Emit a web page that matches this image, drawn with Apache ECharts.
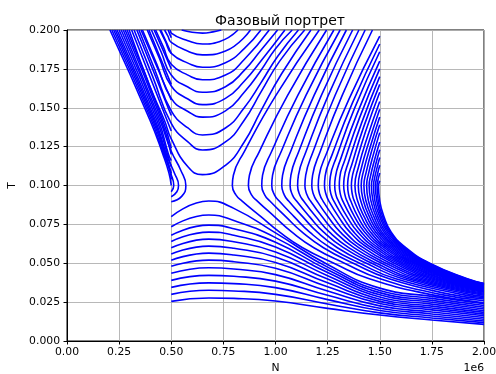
<!DOCTYPE html>
<html>
<head>
<meta charset="utf-8">
<script src="https://cdn.jsdelivr.net/npm/echarts@6.0.0/dist/echarts.min.js"></script>
<style>
html, body { margin: 0; padding: 0; background: #fff; }
#chart { width: 496px; height: 374px; }
</style>
</head>
<body>
<div id="chart"></div>
<script>
// N is in units of 1e6, T as on the axis

// lower family: start at N = 0.5 and run to the right edge
var bottomN = [0.5, 0.68, 0.8, 1.0, 1.25, 1.5, 1.75, 2.0];
var bottomT = [
    [0.0255, 0.0277, 0.0274, 0.0257, 0.0210, 0.0167, 0.0135, 0.0107],
    [0.0300, 0.0326, 0.0322, 0.0300, 0.0238, 0.0181, 0.0148, 0.0118],
    [0.0345, 0.0374, 0.0369, 0.0343, 0.0266, 0.0196, 0.0161, 0.0129],
    [0.0390, 0.0422, 0.0416, 0.0385, 0.0294, 0.0211, 0.0174, 0.0140],
    [0.0435, 0.0471, 0.0463, 0.0427, 0.0322, 0.0226, 0.0187, 0.0151],
    [0.0480, 0.0520, 0.0510, 0.0468, 0.0349, 0.0241, 0.0200, 0.0162],
    [0.0520, 0.0565, 0.0553, 0.0505, 0.0374, 0.0255, 0.0212, 0.0173],
    [0.0560, 0.0610, 0.0596, 0.0540, 0.0398, 0.0269, 0.0224, 0.0184],
    [0.0600, 0.0655, 0.0638, 0.0573, 0.0420, 0.0283, 0.0237, 0.0195],
    [0.0640, 0.0700, 0.0680, 0.0605, 0.0440, 0.0297, 0.0249, 0.0206],
    [0.0680, 0.0745, 0.0722, 0.0635, 0.0458, 0.0311, 0.0261, 0.0217],
    [0.0735, 0.0810, 0.0775, 0.0665, 0.0475, 0.0325, 0.0274, 0.0228],
    [0.0800, 0.0900, 0.0853, 0.0695, 0.0492, 0.0340, 0.0287, 0.0240]
];

// left of the saddle: bundle going up-left from N = 0.5
var leftCurves = [
    [[0.206, 0.2], [0.398, 0.142], [0.460, 0.12], [0.489, 0.108], [0.5, 0.1]],
    [[0.215, 0.2], [0.405, 0.142], [0.4645, 0.12], [0.493, 0.11], [0.5, 0.104]],
    [[0.224, 0.2], [0.4115, 0.142], [0.469, 0.12], [0.497, 0.108], [0.512, 0.1], [0.5, 0.096]],
    [[0.232, 0.2], [0.4175, 0.142], [0.473, 0.12], [0.5, 0.108]],
    [[0.240, 0.2], [0.4235, 0.142], [0.477, 0.12], [0.515, 0.108], [0.535, 0.1], [0.527, 0.096], [0.5, 0.0928]],
    [[0.250, 0.2], [0.431, 0.142], [0.482, 0.12], [0.5, 0.112]],
    [[0.260, 0.2], [0.4385, 0.142], [0.487, 0.12], [0.5, 0.116]],
    [[0.270, 0.2], [0.446, 0.142], [0.5, 0.122], [0.545, 0.11], [0.57, 0.1], [0.55, 0.093], [0.5, 0.0896]],
    [[0.279, 0.2], [0.453, 0.142], [0.5, 0.12]],
    [[0.288, 0.2], [0.4595, 0.142], [0.5, 0.124]],
    [[0.310, 0.2], [0.405, 0.1675], [0.5, 0.135]],
    [[0.335, 0.2], [0.4175, 0.1725], [0.5, 0.145]],
    [[0.355, 0.2], [0.4275, 0.1775], [0.5, 0.155]],
    [[0.393, 0.2], [0.4465, 0.1825], [0.5, 0.165]],
    [[0.418, 0.2], [0.459, 0.1875], [0.5, 0.175]],
    [[0.450, 0.2], [0.475, 0.1925], [0.5, 0.185]],
    [[0.485, 0.2], [0.4925, 0.1975], [0.5, 0.195]]
];

// above the saddle: U shapes
var topCurves = [
    [[0.298, 0.2], [0.40, 0.163], [0.467, 0.142], [0.5, 0.13], [0.58, 0.112], [0.65, 0.107], [0.76, 0.113], [0.85, 0.128], [0.93, 0.148], [1.03, 0.172], [1.17, 0.2]],
    [[0.322, 0.2], [0.411, 0.17], [0.5, 0.14], [0.58, 0.128], [0.65, 0.1228], [0.76, 0.128], [0.85, 0.142], [0.93, 0.16], [1.02, 0.18], [1.14, 0.2]],
    [[0.345, 0.2], [0.4225, 0.174], [0.5, 0.148], [0.58, 0.137], [0.65, 0.1325], [0.76, 0.137], [0.85, 0.15], [0.93, 0.166], [1.01, 0.183], [1.11, 0.2]],
    [[0.362, 0.2], [0.431, 0.178], [0.5, 0.156], [0.58, 0.1476], [0.65, 0.144], [0.76, 0.148], [0.85, 0.16], [0.93, 0.174], [1.0, 0.188], [1.08, 0.2]],
    [[0.385, 0.2], [0.4425, 0.182], [0.5, 0.164], [0.58, 0.1556], [0.65, 0.152], [0.76, 0.156], [0.85, 0.167], [0.93, 0.18], [1.045, 0.2]],
    [[0.405, 0.2], [0.4525, 0.1855], [0.5, 0.171], [0.58, 0.1633], [0.65, 0.16], [0.76, 0.1635], [0.85, 0.174], [0.93, 0.187], [1.01, 0.2]],
    [[0.425, 0.2], [0.4625, 0.189], [0.5, 0.178], [0.58, 0.171], [0.65, 0.168], [0.76, 0.171], [0.85, 0.181], [0.97, 0.2]],
    [[0.445, 0.2], [0.4725, 0.1925], [0.5, 0.185], [0.58, 0.1787], [0.65, 0.176], [0.76, 0.179], [0.85, 0.188], [0.93, 0.2]],
    [[0.468, 0.2], [0.484, 0.196], [0.5, 0.192], [0.58, 0.1864], [0.65, 0.184], [0.76, 0.1865], [0.88, 0.2]],
    [[0.495, 0.2], [0.5, 0.198], [0.58, 0.1931], [0.65, 0.191], [0.73, 0.1925], [0.82, 0.2]],
    [[0.55, 0.2], [0.6, 0.1985], [0.65, 0.198], [0.7, 0.1988], [0.74, 0.2]]
];

// right of the saddle: C shapes from N = 1.5, tails to the right edge
var rightCurves = [
    [[1.21, 0.2], [1.002, 0.158], [0.851, 0.122], [0.798, 0.1066], [0.793, 0.1], [0.81, 0.094], [0.84, 0.09], [0.93, 0.08], [1.02, 0.07], [1.13, 0.06], [1.28, 0.05], [1.45, 0.04], [1.74, 0.03], [2, 0.0245]],
    [[1.245, 0.2], [1.058, 0.158], [0.923, 0.122], [0.875, 0.1066], [0.87, 0.1], [0.885, 0.094], [0.913, 0.09], [0.995, 0.08], [1.079, 0.07], [1.184, 0.06], [1.331, 0.05], [1.502, 0.04], [1.79, 0.03], [2, 0.0259]],
    [[1.28, 0.2], [1.107, 0.158], [0.982, 0.122], [0.938, 0.1066], [0.934, 0.1], [0.948, 0.094], [0.973, 0.09], [1.049, 0.08], [1.128, 0.07], [1.23, 0.06], [1.373, 0.05], [1.545, 0.04], [1.84, 0.03], [2, 0.027]],
    [[1.31, 0.2], [1.146, 0.158], [1.028, 0.122], [0.986, 0.1066], [0.982, 0.1], [0.995, 0.094], [1.018, 0.09], [1.089, 0.08], [1.164, 0.07], [1.263, 0.06], [1.404, 0.05], [1.577, 0.04], [1.89, 0.03], [2, 0.0279]],
    [[1.34, 0.2], [1.185, 0.158], [1.073, 0.122], [1.034, 0.1066], [1.03, 0.1], [1.042, 0.094], [1.063, 0.09], [1.13, 0.08], [1.201, 0.07], [1.297, 0.06], [1.436, 0.05], [1.609, 0.04], [1.93, 0.03], [2, 0.0287]],
    [[1.37, 0.2], [1.22, 0.158], [1.112, 0.122], [1.074, 0.1066], [1.07, 0.1], [1.081, 0.094], [1.101, 0.09], [1.163, 0.08], [1.231, 0.07], [1.326, 0.06], [1.462, 0.05], [1.636, 0.04], [2, 0.0294]],
    [[1.4, 0.2], [1.253, 0.158], [1.147, 0.122], [1.11, 0.1066], [1.106, 0.1], [1.116, 0.094], [1.135, 0.09], [1.193, 0.08], [1.259, 0.07], [1.351, 0.06], [1.485, 0.05], [1.66, 0.04], [2, 0.0301]],
    [[1.43, 0.2], [1.286, 0.158], [1.181, 0.122], [1.145, 0.1066], [1.141, 0.1], [1.151, 0.094], [1.168, 0.09], [1.223, 0.08], [1.286, 0.07], [1.376, 0.06], [1.509, 0.05], [1.683, 0.04], [2, 0.0307]],
    [[1.465, 0.2], [1.32, 0.158], [1.215, 0.122], [1.178, 0.1066], [1.174, 0.1], [1.183, 0.094], [1.199, 0.09], [1.251, 0.08], [1.311, 0.07], [1.399, 0.06], [1.53, 0.05], [1.705, 0.04], [2, 0.0313]],
    [[1.5, 0.196], [1.353, 0.1557], [1.246, 0.1211], [1.209, 0.1063], [1.205, 0.1], [1.213, 0.094], [1.228, 0.09], [1.277, 0.08], [1.334, 0.07], [1.421, 0.06], [1.55, 0.05], [1.726, 0.04], [2, 0.0319]],
    [[1.5, 0.191], [1.368, 0.1528], [1.272, 0.12], [1.238, 0.106], [1.235, 0.1], [1.243, 0.094], [1.256, 0.09], [1.302, 0.08], [1.357, 0.07], [1.442, 0.06], [1.57, 0.05], [1.746, 0.04], [2, 0.0324]],
    [[1.5, 0.186], [1.38, 0.1499], [1.294, 0.1189], [1.263, 0.1057], [1.26, 0.1], [1.267, 0.094], [1.28, 0.09], [1.323, 0.08], [1.376, 0.07], [1.46, 0.06], [1.587, 0.05], [1.763, 0.04], [2, 0.0328]],
    [[1.5, 0.18], [1.392, 0.1464], [1.314, 0.1176], [1.287, 0.1053], [1.284, 0.1], [1.29, 0.094], [1.302, 0.09], [1.343, 0.08], [1.395, 0.07], [1.477, 0.06], [1.602, 0.05], [1.779, 0.04], [2, 0.0333]],
    [[1.5, 0.175], [1.403, 0.1435], [1.333, 0.1165], [1.308, 0.105], [1.306, 0.1], [1.312, 0.094], [1.323, 0.09], [1.362, 0.08], [1.412, 0.07], [1.492, 0.06], [1.617, 0.05], [1.794, 0.04], [2, 0.0337]],
    [[1.5, 0.17], [1.414, 0.1406], [1.351, 0.1154], [1.329, 0.1046], [1.327, 0.1], [1.333, 0.094], [1.343, 0.09], [1.379, 0.08], [1.428, 0.07], [1.507, 0.06], [1.63, 0.05], [1.808, 0.04], [2, 0.034]],
    [[1.5, 0.165], [1.423, 0.1377], [1.368, 0.1143], [1.348, 0.1043], [1.346, 0.1], [1.351, 0.094], [1.361, 0.09], [1.395, 0.08], [1.442, 0.07], [1.521, 0.06], [1.643, 0.05], [1.821, 0.04], [2, 0.0344]],
    [[1.5, 0.16], [1.432, 0.1348], [1.383, 0.1132], [1.366, 0.104], [1.364, 0.1], [1.369, 0.094], [1.378, 0.09], [1.411, 0.08], [1.456, 0.07], [1.533, 0.06], [1.655, 0.05], [1.833, 0.04], [2, 0.0347]],
    [[1.5, 0.154], [1.441, 0.1313], [1.398, 0.1119], [1.381, 0.1], [1.394, 0.09], [1.425, 0.08], [1.469, 0.07], [1.545, 0.06], [1.666, 0.05], [1.844, 0.04], [2, 0.035]],
    [[1.5, 0.149], [1.449, 0.1284], [1.411, 0.1108], [1.397, 0.1], [1.409, 0.09], [1.438, 0.08], [1.481, 0.07], [1.556, 0.06], [1.676, 0.05], [1.855, 0.04], [2, 0.0353]],
    [[1.5, 0.144], [1.456, 0.1255], [1.423, 0.1097], [1.411, 0.1], [1.422, 0.09], [1.45, 0.08], [1.492, 0.07], [1.566, 0.06], [1.685, 0.05], [1.864, 0.04], [2, 0.0355]],
    [[1.5, 0.139], [1.462, 0.1226], [1.435, 0.1086], [1.424, 0.1], [1.434, 0.09], [1.461, 0.08], [1.502, 0.07], [1.576, 0.06], [1.694, 0.05], [1.873, 0.04], [2, 0.0358]],
    [[1.5, 0.134], [1.469, 0.1197], [1.446, 0.1075], [1.437, 0.1], [1.446, 0.09], [1.472, 0.08], [1.511, 0.07], [1.585, 0.06], [1.703, 0.05], [1.882, 0.04], [2, 0.036]],
    [[1.5, 0.128], [1.4745, 0.1162], [1.456, 0.1062], [1.449, 0.1], [1.458, 0.09], [1.482, 0.08], [1.521, 0.07], [1.593, 0.06], [1.71, 0.05], [1.89, 0.04], [2, 0.0362]],
    [[1.5, 0.123], [1.48, 0.1133], [1.466, 0.1051], [1.46, 0.1], [1.468, 0.09], [1.491, 0.08], [1.529, 0.07], [1.601, 0.06], [1.718, 0.05], [1.897, 0.04], [2, 0.0364]],
    [[1.5, 0.118], [1.485, 0.1104], [1.474, 0.104], [1.47, 0.1], [1.477, 0.09], [1.5, 0.08], [1.537, 0.07], [1.609, 0.06], [1.724, 0.05], [1.904, 0.04], [2, 0.0366]],
    [[1.5, 0.113], [1.4895, 0.1075], [1.482, 0.1029], [1.479, 0.1], [1.486, 0.09], [1.507, 0.08], [1.544, 0.07], [1.614, 0.06], [1.73, 0.05], [1.91, 0.04], [2, 0.0367]],
    [[1.5, 0.108], [1.4935, 0.1046], [1.489, 0.1018], [1.487, 0.1], [1.493, 0.09], [1.514, 0.08], [1.55, 0.07], [1.62, 0.06], [1.735, 0.05], [1.915, 0.04], [2, 0.0369]],
    [[1.5, 0.103], [1.497, 0.1018], [1.495, 0.1007], [1.494, 0.1], [1.5, 0.09], [1.52, 0.08], [1.555, 0.07], [1.625, 0.06], [1.74, 0.05], [1.92, 0.04], [2, 0.037]]
];

var font = 'DejaVu Sans';
var chart = echarts.init(document.getElementById('chart'));

function curve(points) {
    return {
        type: 'line',
        data: points,
        smooth: true,
        symbol: 'none',
        silent: true,
        animation: false,
        lineStyle: { color: '#0000ff', width: 1.6 }
    };
}

var series = [];
bottomT.forEach(function (row) {
    series.push(curve(row.map(function (t, i) { return [bottomN[i], t]; })));
});
leftCurves.concat(topCurves, rightCurves).forEach(function (c) {
    series.push(curve(c));
});

var option = {
    backgroundColor: '#fff',
    animation: false,
    title: {
        text: 'Фазовый портрет',
        left: 275,
        top: 9,
        textAlign: 'center',
        textStyle: { fontFamily: font, fontSize: 14, fontWeight: 'normal', color: '#000' }
    },
    grid: {
        left: 67, right: 12, top: 30, bottom: 33,
        outerBoundsMode: 'none',
        show: true, borderColor: '#000', borderWidth: 1, backgroundColor: 'transparent'
    },
    xAxis: {
        type: 'value',
        min: 0, max: 2, interval: 0.25,
        name: 'N', nameLocation: 'middle', nameGap: 22,
        nameTextStyle: { fontFamily: font, fontSize: 10.8, color: '#000' },
        axisLine: { show: true, lineStyle: { color: '#000', width: 1 } },
        axisTick: { show: true, length: 3.5, lineStyle: { color: '#000' } },
        axisLabel: {
            margin: 6, color: '#000', fontFamily: font, fontSize: 10.8,
            formatter: function (v) { return v.toFixed(2); }
        },
        splitLine: { show: true, lineStyle: { color: '#b0b0b0', width: 0.9 } }
    },
    yAxis: {
        type: 'value',
        min: 0, max: 0.2, interval: 0.025,
        name: 'T', nameLocation: 'middle', nameGap: 48, nameRotate: 90,
        nameTextStyle: { fontFamily: font, fontSize: 10.8, color: '#000' },
        axisLine: { show: true, lineStyle: { color: '#000', width: 1 } },
        axisTick: { show: true, length: 3.5, lineStyle: { color: '#000' } },
        axisLabel: {
            margin: 7, color: '#000', fontFamily: font, fontSize: 10.8,
            formatter: function (v) { return v.toFixed(3); }
        },
        splitLine: { show: true, lineStyle: { color: '#b0b0b0', width: 0.9 } }
    },
    graphic: [{
        type: 'text',
        right: 12,
        top: 363,
        style: { text: '1e6', fontFamily: font, fontSize: 10.8, fill: '#000' }
    }],
    series: series
};
chart.setOption(option);
</script>
</body>
</html>
